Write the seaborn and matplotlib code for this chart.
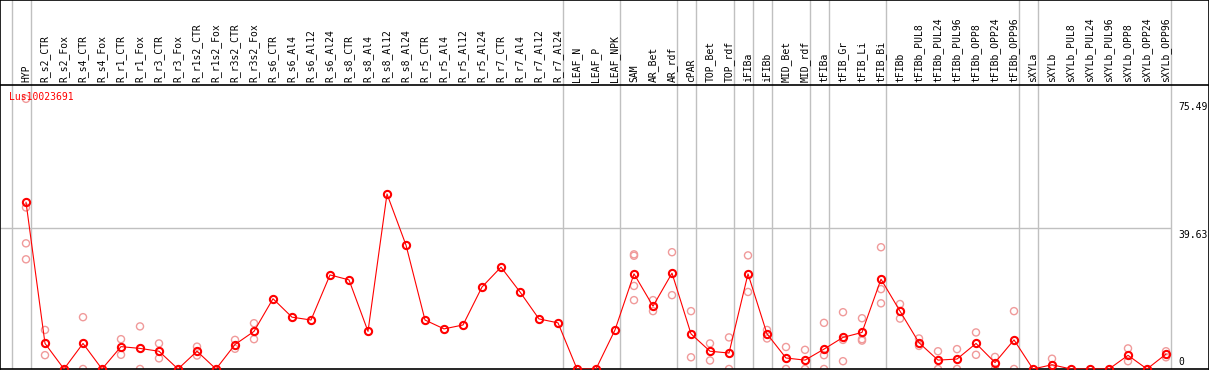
import numpy as np
import pandas as pd
import matplotlib
matplotlib.use("Agg")
import matplotlib.pyplot as plt
import seaborn as sns

# sample names, in display order
samples = ["HYP", "R_s2_CTR", "R_s2_Fox", "R_s4_CTR", "R_s4_Fox", "R_r1_CTR", "R_r1_Fox",
           "R_r3_CTR", "R_r3_Fox", "R_r1s2_CTR", "R_r1s2_Fox", "R_r3s2_CTR", "R_r3s2_Fox",
           "R_s6_CTR", "R_s6_Al4", "R_s6_Al12", "R_s6_Al24", "R_s8_CTR", "R_s8_Al4", "R_s8_Al12",
           "R_s8_Al24", "R_r5_CTR", "R_r5_Al4", "R_r5_Al12", "R_r5_Al24", "R_r7_CTR", "R_r7_Al4",
           "R_r7_Al12", "R_r7_Al24", "LEAF_N", "LEAF_P", "LEAF_NPK", "SAM", "AR_Bet", "AR_rdf",
           "cPAR", "TOP_Bet", "TOP_rdf", "iFIBa", "iFIBb", "MID_Bet", "MID_rdf", "tFIBa",
           "tFIB_Gr", "tFIB_Li", "tFIB_Bi", "tFIBb", "tFIBb_PUL8", "tFIBb_PUL24", "tFIBb_PUL96",
           "tFIBb_OPP8", "tFIBb_OPP24", "tFIBb_OPP96", "sXYLa", "sXYLb", "sXYLb_PUL8",
           "sXYLb_PUL24", "sXYLb_PUL96", "sXYLb_OPP8", "sXYLb_OPP24", "sXYLb_OPP96"]

# group sizes (gray separators drawn after each group)
group_sizes = [1, 28, 3, 3, 1, 2, 1, 1, 2, 1, 3, 7, 1, 7]

# mean expression per sample
means = [47.0, 7.2, 0, 7.2, 0, 6.3, 5.8, 5.0, 0, 5.0, 0, 6.9, 10.6,
         19.8, 14.6, 13.8, 26.5, 25.1, 10.6, 49.3, 34.9, 13.8, 11.3, 12.4, 23.1, 28.7, 21.7, 14.1, 13.0,
         0, 0, 11.0,
         26.8, 17.7, 27.0, 9.9, 5.0, 4.5,
         26.8, 9.9, 3.1, 2.5,
         5.6, 8.9, 10.3, 25.3,
         16.3, 7.4, 2.5, 2.8, 7.2, 1.8, 8.2,
         0, 1.2, 0, 0, 0, 3.85, 0, 4.2]

# replicate values per sample
replicates = [[76.1, 45.5, 35.4, 30.9], [11.0, 3.9], [], [14.6, 0.0], [], [8.4, 4.0], [12.0, 0.0],
              [7.2, 3.0], [], [6.3, 3.8], [], [8.2, 5.7], [12.9, 8.4],
              [], [], [], [], [], [], [], [], [], [], [], [], [], [], [], [],
              [], [], [],
              [32.3, 31.9, 23.4, 19.4], [19.4, 16.3], [32.9, 20.8], [16.3, 3.3], [7.2, 2.4], [8.9, 0.0],
              [32.0, 21.7], [11.0, 8.6], [6.2, 0.0], [5.4, 0.0],
              [13.0, 3.9, 0.0], [16.0, 8.2, 2.2], [14.3, 8.4, 8.0], [34.3, 22.5, 18.5],
              [18.3, 14.2], [8.6, 6.5], [5.0, 0.0], [5.6, 0.0], [10.3, 4.0], [3.4, 0.0], [16.3, 0.0],
              [], [2.9, 0.0], [], [], [], [5.8, 2.2], [], [5.0, 3.3]]

ytick_values = [0, 39.63, 75.49]
ytick_labels = ["0", "39.63", "75.49"]
gene = "Lus10023691"

mean_df = pd.DataFrame({"sample": samples, "pos": np.arange(len(samples)), "value": means})
rep_df = pd.DataFrame([(i, v) for i, vals in enumerate(replicates) for v in vals],
                      columns=["pos", "value"])

sns.set_style("white")
mono = "DejaVu Sans Mono"
grid_col = "#c0c0c0"

W, H = 1209, 370
fig = plt.figure(figsize=(W / 100, H / 100), dpi=100)
ax = fig.add_axes([0, 1 / H, 1, 284 / H])
hx = fig.add_axes([0, 285 / H, 1, 85 / H], sharex=ax)

# column i sits at pixel 26 + 19*i
x0, step = 26, 19
ax.set_xlim((0 - x0) / step, (W - x0) / step)
ax.set_ylim(0, 284 / 3.55)
hx.set_ylim(0, 1)

seps = np.cumsum([0] + group_sizes) - 1 + 0.24
for s in seps:
    ax.axvline(s, color=grid_col, lw=1, zorder=1)
    hx.axvline(s, color=grid_col, lw=1, zorder=1)
ax.hlines(ytick_values[1], ax.get_xlim()[0], seps[-1], color=grid_col, lw=1, zorder=1)

sns.scatterplot(data=rep_df, x="pos", y="value", marker="o", s=26, facecolors="none",
                edgecolor="#f09a9a", linewidth=1.0, zorder=2, ax=ax)
sns.lineplot(data=mean_df, x="pos", y="value", color="red", lw=0.8, marker="o", markersize=5.2,
             markerfacecolor="none", markeredgecolor="red", markeredgewidth=1.5, zorder=3, ax=ax)

ax.text(9 / W, (369 - 100) / 284, gene, transform=ax.transAxes, color="red",
        fontsize=7, family=mono, va="baseline", ha="left")

tx = (1178 - x0) / step
for v, lab in zip(ytick_values, ytick_labels):
    ax.text(tx, v + (0.6 if v == 0 else -0.4), lab, fontsize=7, family=mono,
            va="bottom" if v == 0 else "top", ha="left", color="black")

for i, name in enumerate(samples):
    hx.text(i, 0.03, name, rotation=90, ha="center", va="bottom", fontsize=7,
            family=mono, color="black", transform=hx.get_xaxis_transform())

for a in (ax, hx):
    a.set_xticks([])
    a.set_yticks([])
    a.set_xlabel("")
    a.set_ylabel("")
    for sp in a.spines.values():
        sp.set_color("black")
        sp.set_linewidth(1.2)
ax.spines["top"].set_visible(False)

fig.savefig("out.png", dpi=100, facecolor="white")
